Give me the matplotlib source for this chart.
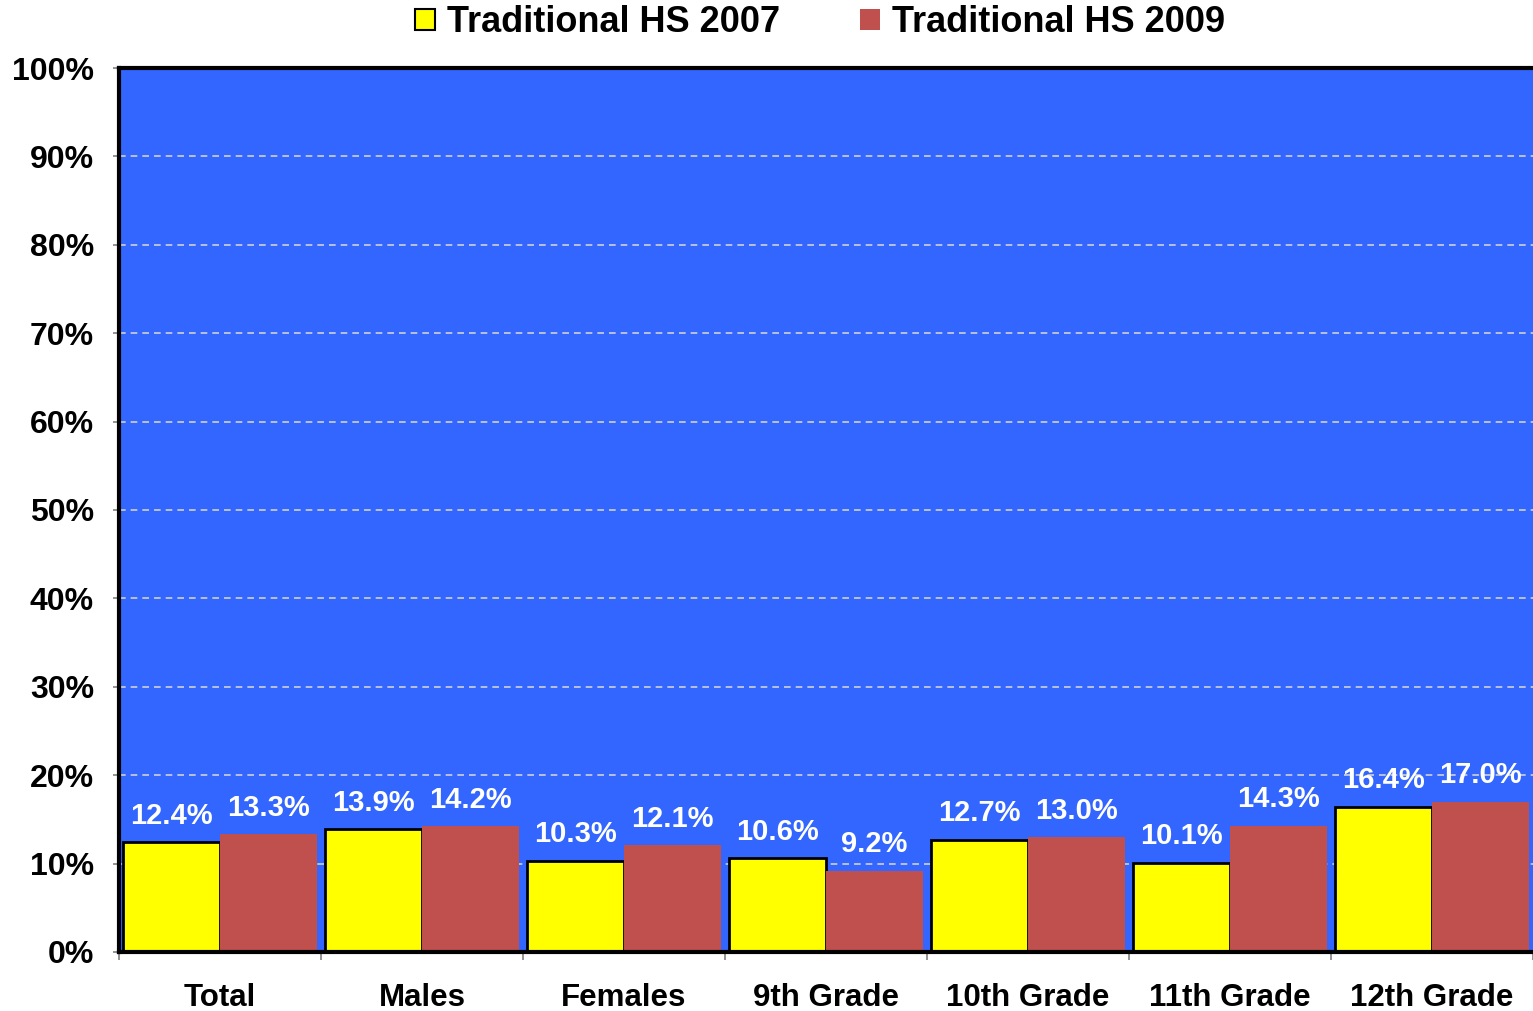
import numpy as np
import matplotlib
matplotlib.use("Agg")
import matplotlib.pyplot as plt
from matplotlib.patches import Patch
from matplotlib.ticker import FixedLocator, PercentFormatter

# data
categories = ["Total", "Males", "Females", "9th Grade", "10th Grade", "11th Grade", "12th Grade"]
hs2007 = [12.4, 13.9, 10.3, 10.6, 12.7, 10.1, 16.4]
hs2009 = [13.3, 14.2, 12.1, 9.2, 13.0, 14.3, 17.0]
series_names = ["Traditional HS 2007", "Traditional HS 2009"]

plt.rcParams['font.family'] = ['Liberation Sans', 'DejaVu Sans']
plt.rcParams['font.weight'] = 'bold'

fig = plt.figure(figsize=(15.33, 10.11), dpi=100)
ax = fig.add_axes([0.0776, 0.0584, 0.9224, 0.8743])
ax.set_facecolor("#3366FF")

x = np.arange(len(categories))
w = 0.48
b1 = ax.bar(x - w/2, hs2007, w, color="#FFFF00", edgecolor="black", linewidth=2, zorder=3)
b2 = ax.bar(x + w/2, hs2009, w, color="#C0504D", edgecolor="none", zorder=3)

for bars, vals in ((b1, hs2007), (b2, hs2009)):
    for r, v in zip(bars, vals):
        ax.annotate(f"{v:.1f}%", (r.get_x() + r.get_width()/2, v),
                    xytext=(0, 9), textcoords="offset points",
                    ha="center", va="bottom", color="white",
                    fontsize=21, fontweight="bold", zorder=5)

ax.set_xlim(-0.5, len(categories) - 0.5)
ax.set_ylim(0, 100)
ax.yaxis.set_major_locator(FixedLocator(np.arange(0, 101, 10)))
ax.yaxis.set_major_formatter(PercentFormatter(decimals=0))
ax.grid(axis="y", color="#D0D0D0", linestyle=(0, (4, 3)), linewidth=1.2, zorder=1)

# ticks at group boundaries, labels at centres
ax.xaxis.set_major_locator(FixedLocator(np.arange(-0.5, len(categories), 1.0)))
ax.xaxis.set_minor_locator(FixedLocator(x))
ax.set_xticklabels([])
ax.set_xticklabels(categories, minor=True)
ax.tick_params(axis="x", which="major", length=6, color="#808080", width=1.2)
ax.tick_params(axis="x", which="minor", length=0, pad=22, labelsize=22.5)
ax.tick_params(axis="y", length=4, color="#808080", width=1.2, labelsize=23, pad=14)
for lab in ax.get_xticklabels(minor=True) + ax.get_yticklabels():
    lab.set_fontweight("bold")

for s in ["left", "top", "bottom"]:
    ax.spines[s].set_linewidth(3)
    ax.spines[s].set_color("black")
    ax.spines[s].set_zorder(6)
ax.spines["right"].set_visible(False)

handles = [Patch(facecolor="#FFFF00", edgecolor="black", linewidth=1.5),
           Patch(facecolor="#C0504D", edgecolor="none")]
fig.legend(handles, series_names, loc="upper center", bbox_to_anchor=(0.535, 1.027),
           ncol=2, frameon=False, prop={"size": 26, "weight": "bold"},
           handlelength=0.55, handleheight=0.55, handletextpad=0.35, columnspacing=2.2)

fig.savefig("out.png", dpi=100)
